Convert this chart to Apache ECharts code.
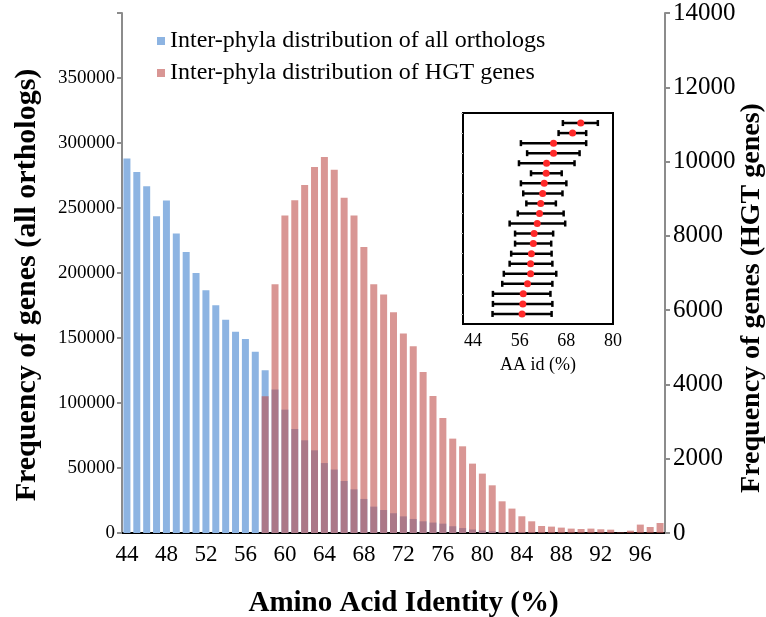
<!DOCTYPE html>
<html>
<head>
<meta charset="utf-8">
<script src="https://cdn.jsdelivr.net/npm/echarts@6/dist/echarts.min.js"></script>
<style>
  html, body { margin: 0; padding: 0; background: #fff; }
  #chart { width: 766px; height: 617px; }
</style>
</head>
<body>
<div id="chart"></div>
<script>
// amino acid identity bins (%)
var identity = ['44', '45', '46', '47', '48', '49', '50', '51', '52', '53', '54', '55', '56', '57',
  '58', '59', '60', '61', '62', '63', '64', '65', '66', '67', '68', '69', '70', '71', '72', '73',
  '74', '75', '76', '77', '78', '79', '80', '81', '82', '83', '84', '85', '86', '87', '88', '89',
  '90', '91', '92', '93', '94', '95', '96', '97', '98']

// all orthologs (left axis)
var allOrthologs = [288000, 277700, 266700, 243600, 255700, 230300, 216100, 200000, 186700, 175100,
  164100, 154900, 149200, 139500, 125100, 110300, 94900, 80000, 71300, 63600, 53800, 48800, 40000,
  33600, 26200, 20300, 17700, 15200, 12800, 10800, 9000, 8000, 7200, 5200, 3800, 2700, 1900, 1300,
  900, 700, 500, 350, 250, 200, 150, 100, 80, 60, 50, 40, 20, 10, 30, 20, 30]

// HGT genes (right axis)
var hgtGenes = [0, 0, 0, 0, 0, 0, 0, 0, 0, 0, 0, 0, 0, 0, 3680, 6695, 8545, 8956, 9368, 9853, 10122,
  9783, 9029, 8545, 7699, 6695, 6418, 5941, 5368, 5026, 4334, 3688, 3096, 2541, 2334, 1868, 1599,
  1284, 853, 657, 450, 315, 188, 172, 145, 118, 108, 118, 100, 90, 15, 63, 226, 161, 269]

// inset: one row per group, top row first
var insetRow = [20, 19, 18, 17, 16, 15, 14, 13, 12, 11, 10, 9, 8, 7, 6, 5, 4, 3, 2, 1]
var insetMean = [71.7, 69.6, 64.7, 64.7, 62.9, 62.8, 62.3, 61.9, 61.4, 61.1, 60.5, 59.7, 59.5, 59.0,
  58.8, 58.8, 58.0, 56.9, 56.8, 56.6]
var insetLow = [67.1, 66.0, 56.3, 57.9, 55.8, 58.9, 56.3, 56.9, 57.7, 55.5, 53.4, 54.8, 54.8, 53.8,
  53.4, 51.9, 51.5, 49.1, 49.1, 49.0]
var insetHigh = [76.1, 73.1, 73.1, 71.4, 70.1, 66.8, 68.0, 67.0, 65.3, 67.3, 67.7, 64.6, 64.1, 64.2,
  64.4, 65.4, 64.4, 63.9, 64.4, 64.2]
var insetTicks = [44, 56, 68, 80]

var serif = "'Liberation Serif', 'Times New Roman', serif"
var grey = '#8c8c8c'

var chart = echarts.init(document.getElementById('chart'))

var dots = []
var bars = []
for (var i = 0; i < insetRow.length; i++) {
  dots.push([insetMean[i], insetRow[i]])
  bars.push([insetRow[i], insetLow[i], insetHigh[i]])
}

function renderErrorBar(params, api) {
  var row = api.value(0)
  var lo = api.coord([api.value(1), row])
  var hi = api.coord([api.value(2), row])
  var cap = 3
  var style = { stroke: '#000', lineWidth: 2.5 }
  return {
    type: 'group',
    children: [
      { type: 'line', shape: { x1: lo[0], y1: lo[1], x2: hi[0], y2: hi[1] }, style: style },
      { type: 'line', shape: { x1: lo[0], y1: lo[1] - cap, x2: lo[0], y2: lo[1] + cap }, style: style },
      { type: 'line', shape: { x1: hi[0], y1: hi[1] - cap, x2: hi[0], y2: hi[1] + cap }, style: style }
    ]
  }
}

chart.setOption({
  animation: false,
  textStyle: { fontFamily: serif, color: '#000' },
  legend: {
    orient: 'vertical',
    left: 152,
    top: 24,
    itemWidth: 8,
    itemHeight: 8,
    itemGap: 8,
    icon: 'rect',
    textStyle: { fontFamily: serif, fontSize: 24, color: '#000' },
    data: ['Inter-phyla distribution of all orthologs', 'Inter-phyla distribution of HGT genes']
  },
  grid: [
    { left: 122, right: 101, top: 13, bottom: 84, outerBoundsMode: 'none' },
    {
      left: 463, top: 113, width: 150, height: 211, outerBoundsMode: 'none',
      show: true, borderColor: '#000', borderWidth: 2
    }
  ],
  xAxis: [{
    type: 'category',
    gridIndex: 0,
    data: identity,
    axisLine: { lineStyle: { color: grey, width: 2 } },
    axisTick: { interval: 1, length: 5, lineStyle: { color: grey, width: 2 } },
    axisLabel: { interval: 3, fontSize: 23, color: '#000', margin: 10, fontFamily: serif },
    name: 'Amino Acid Identity (%)',
    nameLocation: 'middle',
    nameGap: 56,
    nameTextStyle: {
      fontFamily: serif, fontSize: 29, fontWeight: 'bold', color: '#000', padding: [0, 0, 0, 20]
    }
  }, {
    type: 'category',
    gridIndex: 0,
    position: 'top',
    data: identity,
    axisLine: { lineStyle: { color: '#000', width: 2 } },
    axisTick: { show: false },
    axisLabel: { show: false }
  }, {
    type: 'value',
    gridIndex: 1,
    min: 41.4,
    max: 80,
    axisLine: { show: false },
    axisTick: { show: false },
    splitLine: { show: false },
    axisLabel: { customValues: insetTicks, fontSize: 18, color: '#000', margin: 8, fontFamily: serif },
    name: 'AA id (%)',
    nameLocation: 'middle',
    nameGap: 32,
    nameTextStyle: { fontFamily: serif, fontSize: 18, color: '#000' }
  }],
  yAxis: [{
    type: 'value',
    gridIndex: 0,
    min: 0,
    max: 400000,
    interval: 50000,
    axisLine: { show: true, lineStyle: { color: grey, width: 2 } },
    axisTick: { show: true, length: 5, lineStyle: { color: grey, width: 2 } },
    splitLine: { show: false },
    axisLabel: {
      fontSize: 19,
      color: '#000',
      margin: 7,
      fontFamily: serif,
      formatter: function (v) { return v === 400000 ? '' : String(v) }
    },
    name: 'Frequency of genes (all orthologs)',
    nameLocation: 'middle',
    nameGap: 80,
    nameMoveOverlap: false,
    nameTextStyle: {
      fontFamily: serif, fontSize: 30, fontWeight: 'bold', color: '#000', padding: [0, 24, 0, 0]
    }
  }, {
    type: 'value',
    gridIndex: 0,
    position: 'right',
    min: 0,
    max: 14000,
    interval: 2000,
    axisLine: { show: true, lineStyle: { color: grey, width: 2 } },
    axisTick: { show: true, length: 5, lineStyle: { color: grey, width: 2 } },
    splitLine: { show: false },
    axisLabel: {
      fontSize: 25,
      color: '#000',
      margin: 8,
      fontFamily: serif,
      formatter: function (v) { return String(v) }
    },
    name: 'Frequency of genes (HGT genes)',
    nameLocation: 'middle',
    nameRotate: 90,
    nameGap: 73,
    nameMoveOverlap: false,
    nameTextStyle: {
      fontFamily: serif, fontSize: 28, fontWeight: 'bold', color: '#000', padding: [0, 50, 0, 0]
    }
  }, {
    type: 'value',
    gridIndex: 1,
    min: 0,
    max: 21,
    axisLine: { show: false },
    axisLabel: { show: false },
    splitLine: { show: false },
    axisTick: {
      show: true,
      inside: false,
      length: 2,
      customValues: [1, 3, 5, 7, 9, 11, 13, 15, 17, 19, 21],
      lineStyle: { color: '#bbb', width: 1 }
    }
  }],
  series: [{
    name: 'Inter-phyla distribution of all orthologs',
    type: 'bar',
    xAxisIndex: 0,
    yAxisIndex: 0,
    barWidth: 7,
    itemStyle: { color: '#8db4e2' },
    data: allOrthologs
  }, {
    name: 'Inter-phyla distribution of HGT genes',
    type: 'bar',
    xAxisIndex: 0,
    yAxisIndex: 1,
    barWidth: 7,
    barGap: '-100%',
    itemStyle: { color: 'rgba(192, 80, 77, 0.6)' },
    data: hgtGenes
  }, {
    type: 'custom',
    xAxisIndex: 2,
    yAxisIndex: 2,
    renderItem: renderErrorBar,
    encode: { x: [1, 2], y: 0 },
    data: bars,
    z: 3
  }, {
    type: 'scatter',
    xAxisIndex: 2,
    yAxisIndex: 2,
    symbolSize: 7,
    itemStyle: { color: '#ff2a2a', opacity: 1 },
    data: dots,
    z: 4
  }]
})
</script>
</body>
</html>
